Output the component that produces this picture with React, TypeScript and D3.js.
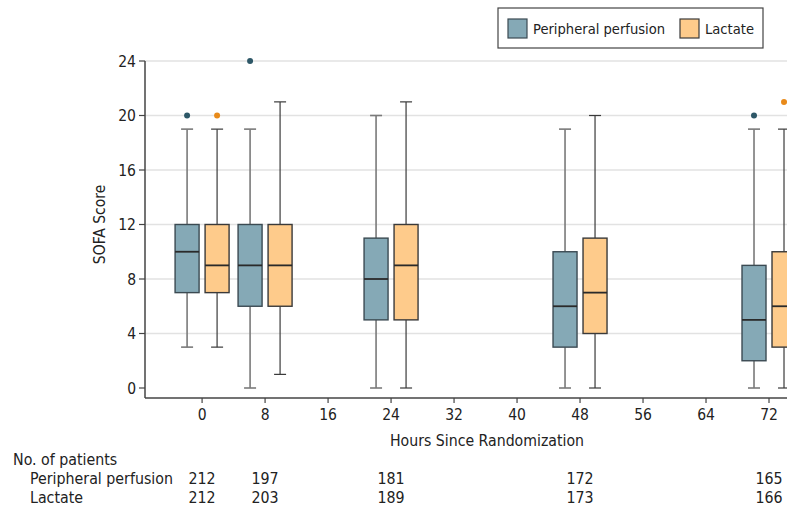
import * as d3 from "d3";
import React, { useEffect, useRef } from "react";

const hours = [0, 8, 24, 48, 72];

const ppMin = [3, 0, 0, 0, 0];
const ppQ1 = [7, 6, 5, 3, 2];
const ppMedian = [10, 9, 8, 6, 5];
const ppQ3 = [12, 12, 11, 10, 9];
const ppMax = [19, 19, 20, 19, 19];
const ppOutliers = [[20], [24], [], [], [20]];

const lacMin = [3, 1, 0, 0, 0];
const lacQ1 = [7, 6, 5, 4, 3];
const lacMedian = [9, 9, 9, 7, 6];
const lacQ3 = [12, 12, 12, 11, 10];
const lacMax = [19, 21, 21, 20, 19];
const lacOutliers = [[20], [], [], [], [21]];

const ppCounts = [212, 197, 181, 172, 165];
const lacCounts = [212, 203, 189, 173, 166];

const xTicks = [0, 8, 16, 24, 32, 40, 48, 56, 64, 72];
const yTicks = [0, 4, 8, 12, 16, 20, 24];

interface IBox {
  key: string;
  hour: number;
  min: number;
  q1: number;
  median: number;
  q3: number;
  max: number;
  outliers: number[];
}

const FONT = "'Liberation Sans Narrow', 'DejaVu Sans Condensed', 'Open Sans', sans-serif";

const series = [
  { key: "pp", name: "Peripheral perfusion", fill: "#85a9b6", stroke: "#3b4a52", whisker: "#7a7a7a", dot: "#2d5767", counts: ppCounts },
  { key: "lac", name: "Lactate", fill: "#fecb8b", stroke: "#3a3a3a", whisker: "#3a3a3a", dot: "#e88a1a", counts: lacCounts },
];

const App: React.FC = () => {
  const svgRef = useRef<SVGSVGElement>(null);

  useEffect(() => {
    const svg = d3.select(svgRef.current);
    svg.selectAll("*").remove();
    svg.style("font-family", FONT);

    const x = d3.scaleLinear().domain([-7.25, 80]).range([145, 832]);
    const y = d3.scaleLinear().domain([0, 24]).range([388, 61]);
    const axisY = 398;
    const offset = d3.scalePoint<string>().domain(["pp", "lac"]).range([-15, 15]);
    const boxW = 24;
    const capW = 12;

    const boxes: IBox[] = [];
    hours.forEach((h, i) => {
      boxes.push({ key: "pp", hour: h, min: ppMin[i], q1: ppQ1[i], median: ppMedian[i], q3: ppQ3[i], max: ppMax[i], outliers: ppOutliers[i] });
      boxes.push({ key: "lac", hour: h, min: lacMin[i], q1: lacQ1[i], median: lacMedian[i], q3: lacQ3[i], max: lacMax[i], outliers: lacOutliers[i] });
    });
    const style = (k: string) => series.find((s) => s.key === k)!;

    // grid lines
    svg
      .append("g")
      .selectAll("line")
      .data(yTicks.filter((t) => t > 0))
      .join("line")
      .attr("x1", 145)
      .attr("x2", 787)
      .attr("y1", (d) => y(d))
      .attr("y2", (d) => y(d))
      .attr("stroke", "#e2e2e2")
      .attr("stroke-width", 1.5);

    // y axis
    const yAxis = svg.append("g").attr("transform", `translate(145,0)`);
    yAxis
      .append("line")
      .attr("x1", 0)
      .attr("x2", 0)
      .attr("y1", y(24))
      .attr("y2", axisY)
      .attr("stroke", "#444")
      .attr("stroke-width", 1.5);
    const yt = yAxis.selectAll("g.tick").data(yTicks).join("g").attr("class", "tick");
    yt.append("line")
      .attr("x1", -6)
      .attr("x2", 0)
      .attr("y1", (d) => y(d))
      .attr("y2", (d) => y(d))
      .attr("stroke", "#444")
      .attr("stroke-width", 1.2);
    yt.append("text")
      .attr("x", -9)
      .attr("y", (d) => y(d))
      .attr("dy", "0.36em")
      .attr("text-anchor", "end")
      .attr("font-size", 15.5)
      .attr("fill", "#222")
      .text((d) => d);

    // x axis
    const xAxis = svg.append("g").attr("transform", `translate(0,${axisY})`);
    xAxis
      .append("line")
      .attr("x1", 145)
      .attr("x2", 787)
      .attr("stroke", "#444")
      .attr("stroke-width", 1.5);
    const xt = xAxis.selectAll("g.tick").data(xTicks).join("g").attr("class", "tick");
    xt.append("line")
      .attr("x1", (d) => x(d))
      .attr("x2", (d) => x(d))
      .attr("y1", 0)
      .attr("y2", 5)
      .attr("stroke", "#444")
      .attr("stroke-width", 1.2);
    xt.append("text")
      .attr("x", (d) => x(d))
      .attr("y", 22)
      .attr("text-anchor", "middle")
      .attr("font-size", 15.5)
      .attr("fill", "#222")
      .text((d) => d);

    svg
      .append("text")
      .attr("x", 487)
      .attr("y", 446)
      .attr("text-anchor", "middle")
      .attr("font-size", 15.7)
      .attr("fill", "#222")
      .text("Hours Since Randomization");

    svg
      .append("text")
      .attr("transform", `translate(105,${(y(0) + y(24)) / 2}) rotate(-90)`)
      .attr("text-anchor", "middle")
      .attr("font-size", 15.5)
      .attr("fill", "#222")
      .text("SOFA Score");

    // boxes
    const bg = svg
      .append("g")
      .selectAll("g")
      .data(boxes)
      .join("g")
      .attr("transform", (d) => `translate(${x(d.hour) + (offset(d.key) ?? 0)},0)`);

    const wW = (k: string) => (k === "pp" ? 1.6 : 1.2);
    bg.append("line")
      .attr("y1", (d) => y(d.max))
      .attr("y2", (d) => y(d.q3))
      .attr("stroke", (d) => style(d.key).whisker)
      .attr("stroke-width", (d) => wW(d.key));
    bg.append("line")
      .attr("y1", (d) => y(d.q1))
      .attr("y2", (d) => y(d.min))
      .attr("stroke", (d) => style(d.key).whisker)
      .attr("stroke-width", (d) => wW(d.key));
    bg.append("line")
      .attr("x1", -capW / 2)
      .attr("x2", capW / 2)
      .attr("y1", (d) => y(d.max))
      .attr("y2", (d) => y(d.max))
      .attr("stroke", (d) => style(d.key).whisker)
      .attr("stroke-width", (d) => wW(d.key));
    bg.append("line")
      .attr("x1", -capW / 2)
      .attr("x2", capW / 2)
      .attr("y1", (d) => y(d.min))
      .attr("y2", (d) => y(d.min))
      .attr("stroke", (d) => style(d.key).whisker)
      .attr("stroke-width", (d) => wW(d.key));
    bg.append("rect")
      .attr("x", -boxW / 2)
      .attr("width", boxW)
      .attr("y", (d) => y(d.q3))
      .attr("height", (d) => y(d.q1) - y(d.q3))
      .attr("fill", (d) => style(d.key).fill)
      .attr("stroke", (d) => style(d.key).stroke)
      .attr("stroke-width", 1.4);
    bg.append("line")
      .attr("x1", -boxW / 2)
      .attr("x2", boxW / 2)
      .attr("y1", (d) => y(d.median))
      .attr("y2", (d) => y(d.median))
      .attr("stroke", "#2a2a2a")
      .attr("stroke-width", 1.8);
    bg.selectAll("circle")
      .data((d) => d.outliers.map((v) => ({ v, key: d.key })))
      .join("circle")
      .attr("cx", 0)
      .attr("cy", (d) => y(d.v))
      .attr("r", 3)
      .attr("fill", (d) => style(d.key).dot);

    // legend
    const lg = svg.append("g");
    lg.append("rect")
      .attr("x", 498)
      .attr("y", 8)
      .attr("width", 265)
      .attr("height", 40)
      .attr("fill", "#fff")
      .attr("stroke", "#444")
      .attr("stroke-width", 1.2);
    const legendX = [508, 680];
    series.forEach((s, i) => {
      lg.append("rect")
        .attr("x", legendX[i])
        .attr("y", 19)
        .attr("width", 19)
        .attr("height", 19)
        .attr("fill", s.fill)
        .attr("stroke", s.stroke)
        .attr("stroke-width", 1.2);
      lg.append("text")
        .attr("x", legendX[i] + 25)
        .attr("y", 34)
        .attr("font-size", 14.6)
        .attr("fill", "#222")
        .text(s.name);
    });

    // number at risk table
    const tb = svg.append("g").attr("font-size", 15.8).attr("fill", "#222");
    tb.append("text").attr("x", 13).attr("y", 465).text("No. of patients");
    series.forEach((s, i) => {
      const yy = 484 + i * 19;
      tb.append("text").attr("x", 30).attr("y", yy).text(s.name);
      tb.selectAll(`text.n-${s.key}`)
        .data(s.counts)
        .join("text")
        .attr("class", `n-${s.key}`)
        .attr("x", (_, j) => x(hours[j]))
        .attr("y", yy)
        .attr("text-anchor", "middle")
        .text((d) => d);
    });
  }, []);

  return (
    <svg
      ref={svgRef}
      width={787}
      height={506}
      style={{ position: "absolute", left: 0, top: 0, background: "#fff" }}
    />
  );
};

export default App;
